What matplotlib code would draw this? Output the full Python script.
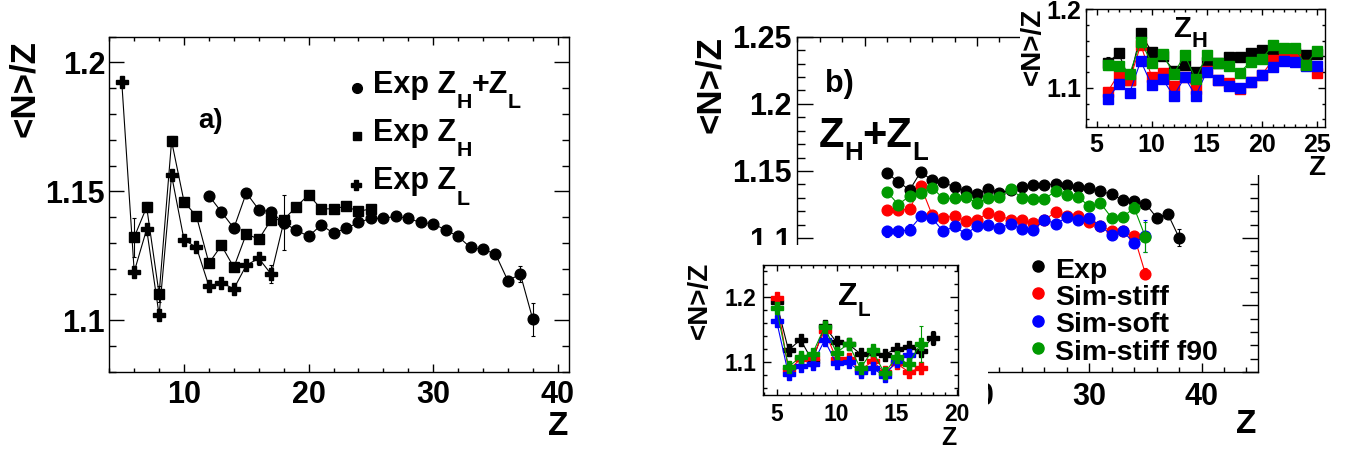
import matplotlib
matplotlib.use("Agg")
import matplotlib.pyplot as plt
from matplotlib.lines import Line2D
from matplotlib.patches import Rectangle
from matplotlib.ticker import MultipleLocator, FuncFormatter

plt.rcParams['font.family'] = ['Liberation Sans', 'DejaVu Sans']
plt.rcParams['font.weight'] = 'bold'

# ---- panel a) experimental data ----
z_hl = list(range(12, 39))
nz_hl = [1.1483, 1.1420, 1.1357, 1.1494, 1.1429, 1.1420, 1.1377, 1.1350, 1.1325,
         1.1369, 1.1338, 1.1356, 1.1379, 1.1395, 1.1395, 1.1403, 1.1395, 1.1379,
         1.1374, 1.1350, 1.1325, 1.1282, 1.1275, 1.1257, 1.1153, 1.1179, 1.1003]
err_hl = [0.002, 0.002, 0.002, 0.0015, 0.001, 0.001, 0.001, 0.001, 0.001,
          0.001, 0.001, 0.001, 0.001, 0.001, 0.001, 0.001, 0.001, 0.001,
          0.001, 0.001, 0.001, 0.001, 0.001, 0.001, 0.002, 0.003, 0.0065]

z_h = list(range(6, 26))
nz_h = [1.1322, 1.1439, 1.1101, 1.1695, 1.1460, 1.1403, 1.1221, 1.1290, 1.1205, 1.1335,
        1.1314, 1.1390, 1.1390, 1.1439, 1.1487, 1.1432, 1.1432, 1.1442, 1.1422, 1.1432]
err_h = [0.0075, 0.002, 0.003, 0.002, 0.001, 0.001, 0.001, 0.001, 0.001, 0.001,
         0.001, 0.001, 0.001, 0.001, 0.001, 0.001, 0.001, 0.001, 0.001, 0.001]

z_l = list(range(5, 19))
nz_l = [1.1925, 1.1188, 1.1353, 1.1020, 1.1562, 1.1312, 1.1282, 1.1132, 1.1145,
        1.1122, 1.1213, 1.1240, 1.1178, 1.1380]
err_l = [0.001, 0.002, 0.002, 0.002, 0.002, 0.001, 0.001, 0.001, 0.001,
         0.001, 0.002, 0.0026, 0.0035, 0.0107]

# ---- panel b) simulations, Z_H+Z_L ----
z_sim = list(range(12, 36))
stiff = [1.1206, 1.1206, 1.1216, 1.1385, 1.1174, 1.1149, 1.1166, 1.1124, 1.1137, 1.1187,
         1.1166, 1.1137, 1.1137, 1.1112, 1.1137, 1.1191, 1.1166, 1.1166, 1.1116, 1.1092,
         1.1049, 1.1049, 1.1012, 1.0734]
soft = [1.1049, 1.1049, 1.1062, 1.1161, 1.1149, 1.1049, 1.1087, 1.1032, 1.1087, 1.1099,
        1.1075, 1.1107, 1.1067, 1.1057, 1.1137, 1.1107, 1.1154, 1.1131, 1.1149, 1.1087,
        1.1025, 1.1049, 1.0963, 1.1017]
f90 = [1.1343, 1.1250, 1.1313, 1.1338, 1.1375, 1.1295, 1.1295, 1.1305, 1.1263, 1.1295,
       1.1305, 1.1366, 1.1299, 1.1292, 1.1292, 1.1348, 1.1318, 1.1308, 1.1236, 1.1260,
       1.1150, 1.1158, 1.1225, 1.1008]
err_stiff = [0.003] * 3 + [0.002] * 20 + [0.004]
err_soft = [0.004] * 3 + [0.002] * 19 + [0.004, 0.012]
err_f90 = [0.003] * 3 + [0.002] * 19 + [0.004, 0.011]

# ---- inset Z_H ----
stiff_h = [1.0953, 1.1178, 1.1102, 1.1547, 1.1144, 1.1195, 1.1025, 1.1136, 1.0983, 1.1220,
           1.1102, 1.1059, 1.0983, 1.1080, 1.1165, 1.1356, 1.1441, 1.1407, 1.1290, 1.1195]
soft_h = [1.0856, 1.1051, 1.0941, 1.1343, 1.1038, 1.1110, 1.0898, 1.1136, 1.0898, 1.1208,
          1.1102, 1.1025, 1.0996, 1.1080, 1.1165, 1.1271, 1.1347, 1.1335, 1.1285, 1.1280]
f90_h = [1.1292, 1.1280, 1.1178, 1.1589, 1.1322, 1.1432, 1.1178, 1.1420, 1.1110, 1.1420,
         1.1322, 1.1280, 1.1195, 1.1335, 1.1364, 1.1547, 1.1504, 1.1504, 1.1292, 1.1475]
err_sim_h = [0.006] + [0.002] * 19

# ---- inset Z_L ----
z_l_sim = list(range(5, 18))
stiff_l = [1.1985, 1.0883, 1.1051, 1.1071, 1.1492, 1.1051, 1.1051, 1.0883, 1.1020,
           1.0848, 1.0985, 1.0858, 1.0909]
soft_l = [1.1645, 1.0817, 1.0949, 1.0970, 1.1340, 1.0985, 1.1000, 1.0858, 1.0909,
          1.0797, 1.1020, 1.1112]
f90_l = [1.1832, 1.0934, 1.1086, 1.1137, 1.1543, 1.1152, 1.1289, 1.0909, 1.1188,
         1.0832, 1.1086, 1.0970, 1.1289]
err_stiff_l = [0.002] * 12 + [0.008]
err_soft_l = [0.002] * 12
err_f90_l = [0.002] * 12 + [0.028]

RED, BLUE, GREEN = '#ff0000', '#0000ff', '#009900'

W, H = 1350, 451
fig = plt.figure(figsize=(W / 100, H / 100), dpi=100)


def px_axes(left, top, right, bottom, z=1):
    ax = fig.add_axes([left / W, 1 - bottom / H, (right - left) / W, (bottom - top) / H])
    ax.set_zorder(z)
    return ax


def fmt_from(xmin_shown=None, ymin_shown=None):
    # '%g' labels; labels below the given value stay empty (hidden under an inset)
    def f(v, p, lo):
        if lo is not None and v < lo:
            return ''
        return f'{round(v, 3):g}'
    return (FuncFormatter(lambda v, p: f(v, p, xmin_shown)),
            FuncFormatter(lambda v, p: f(v, p, ymin_shown)))


def root_style(ax, xlim, ylim, xmaj, xmin, ymaj, ymin, size, xlen, ylen, xpad, ypad,
               xlo=None, ylo=None):
    ax.set_xlim(*xlim)
    ax.set_ylim(*ylim)
    ax.xaxis.set_major_locator(MultipleLocator(xmaj))
    ax.xaxis.set_minor_locator(MultipleLocator(xmin))
    ax.yaxis.set_major_locator(MultipleLocator(ymaj))
    ax.yaxis.set_minor_locator(MultipleLocator(ymin))
    fx, fy = fmt_from(xlo, ylo)
    ax.xaxis.set_major_formatter(fx)
    ax.yaxis.set_major_formatter(fy)
    ax.tick_params(which='both', direction='in', top=True, right=True,
                   labelsize=size, width=1)
    ax.tick_params(axis='x', which='major', length=xlen, pad=xpad)
    ax.tick_params(axis='x', which='minor', length=xlen / 2)
    ax.tick_params(axis='y', which='major', length=ylen, pad=ypad)
    ax.tick_params(axis='y', which='minor', length=ylen / 2)
    for s in ax.spines.values():
        s.set_linewidth(1)


def series(ax, x, y, e, color, marker, ms, z):
    ax.errorbar(x, y, yerr=e, fmt=marker + '-', color=color, ms=ms, lw=0.8,
                elinewidth=0.8, capsize=1.5, capthick=0.8, zorder=z)


def root_text(x, y, parts, size, sub=0.65, drop=0.7, z=6):
    # ROOT-like text with large, low subscripts; x, y in pixels (y = baseline)
    r = fig.canvas.get_renderer()
    for s, is_sub in parts:
        fs = size * sub if is_sub else size
        yy = y + (drop * 0.716 * size * 100 / 72 if is_sub else 0)
        t = fig.text(x / W, 1 - yy / H, s, fontsize=fs, ha='left', va='baseline', zorder=z)
        x += t.get_window_extent(r).width


def ftext(x, y, s, size, **kw):
    return fig.text(x / W, 1 - y / H, s, fontsize=size, **kw)


def marker_icon(x, y, marker, ms, color='k'):
    fig.add_artist(Line2D([x / W], [1 - y / H], transform=fig.transFigure, marker=marker,
                          ms=ms, color=color, ls='none', zorder=6))


# ================= panel a =================
ax_a = px_axes(109.3, 36.7, 569.3, 371.7)
root_style(ax_a, (4, 40.93), (1.08, 1.21), 10, 2, 0.05, 0.01, 22, 6, 10.5, 6, 3)
series(ax_a, z_l, nz_l, err_l, 'k', 'P', 8, 3)
series(ax_a, z_h, nz_h, err_h, 'k', 's', 6.5, 3)
series(ax_a, z_hl, nz_hl, err_hl, 'k', 'o', 7.7, 3)

ftext(24, 40, '<N>/Z', 25, rotation=90, ha='center', va='top')
ftext(568.3, 435, 'Z', 24, ha='right', va='baseline')
ftext(198, 128.3, 'a)', 20, ha='left', va='baseline')

marker_icon(357.4, 87.8, 'o', 7)
marker_icon(357.4, 136.3, 's', 5.5)
marker_icon(356.3, 185.2, 'P', 6.5)
root_text(373, 92.6, [('Exp Z', False), ('H', True), ('+Z', False), ('L', True)], 22,
          sub=0.7, drop=0.72)
root_text(373, 140.7, [('Exp Z', False), ('H', True)], 22, sub=0.7, drop=0.72)
root_text(373, 188.9, [('Exp Z', False), ('L', True)], 22, sub=0.7, drop=0.72)

# ================= panel b =================
ax_b = px_axes(797.3, 36.7, 1257.7, 372.3, z=1)
root_style(ax_b, (4, 45), (1.0, 1.25), 10, 2, 0.05, 0.01, 22, 6.5, 11.5, 7, 4,
           xlo=15, ylo=1.09)
series(ax_b, z_hl, nz_hl, err_hl, 'k', 'o', 7.7, 3)
series(ax_b, z_sim, stiff, err_stiff, RED, 'o', 7.7, 4)
series(ax_b, z_sim, soft, err_soft, BLUE, 'o', 7.7, 5)
series(ax_b, z_sim, f90, err_f90, GREEN, 'o', 7.7, 6)

ftext(710, 36, '<N>/Z', 25, rotation=90, ha='center', va='top')
ftext(1256.7, 433.3, 'Z', 24, ha='right', va='baseline')
ftext(825, 91.7, 'b)', 22, ha='left', va='baseline')
root_text(818.3, 146.7, [('Z', False), ('H', True), ('+Z', False), ('L', True)], 30,
          sub=0.62, drop=0.45)

legend_rows = [('Exp', 'k', 266, 277.5), ('Sim-stiff', RED, 293.3, 305),
               ('Sim-soft', BLUE, 321, 332.5), ('Sim-stiff f90', GREEN, 348.3, 360)]
for label, col, ym, yb in legend_rows:
    marker_icon(1037.7, ym, 'o', 8, col)
    ftext(1055, yb, label, 20.5, ha='left', va='baseline', zorder=6)

# white pads of the two insets (they hide part of panel b)
fig.add_artist(Rectangle((680 / W, 0), (988 - 680) / W, 1 - 245 / H,
                         transform=fig.transFigure, facecolor='white', edgecolor='none', zorder=2))
fig.add_artist(Rectangle((1020 / W, 1 - 175 / H), (W - 1020) / W, 175 / H,
                         transform=fig.transFigure, facecolor='white', edgecolor='none', zorder=2))

# ================= inset Z_H =================
ax_h = px_axes(1085.7, 9.3, 1325, 127.3, z=3)
root_style(ax_h, (4, 25.75), (1.05, 1.2), 5, 1, 0.1, 0.02, 18, 4, 5, 4, 3)
series(ax_h, z_h, nz_h, err_h, 'k', 's', 6.5, 3)
series(ax_h, z_h, stiff_h, err_sim_h, RED, 's', 6.5, 4)
series(ax_h, z_h, soft_h, err_sim_h, BLUE, 's', 6.5, 5)
series(ax_h, z_h, f90_h, err_sim_h, GREEN, 's', 6.5, 6)
ftext(1032.5, 8, '<N>/Z', 20, rotation=90, ha='center', va='top', zorder=6)
ftext(1325, 175, 'Z', 20, ha='right', va='baseline', zorder=6)
root_text(1173.3, 36.7, [('Z', False), ('H', True)], 21, sub=0.75, drop=0.5)

# ================= inset Z_L =================
ax_l = px_axes(763.3, 265, 957.7, 395, z=3)
root_style(ax_l, (3.9, 20.1), (1.05, 1.25), 5, 1, 0.1, 0.02, 16.5, 4, 5.5, 6, 5)
series(ax_l, z_l, nz_l, err_l, 'k', 'P', 8, 3)
series(ax_l, z_l_sim, stiff_l, err_stiff_l, RED, 'P', 8, 4)
series(ax_l, z_l_sim[:-1], soft_l, err_soft_l, BLUE, 'P', 8, 5)
series(ax_l, z_l_sim, f90_l, err_f90_l, GREEN, 'P', 8, 6)
ftext(700, 262, '<N>/Z', 20, rotation=90, ha='center', va='top', zorder=6)
ftext(957, 445, 'Z', 18, ha='right', va='baseline', zorder=6)
root_text(838.3, 305, [('Z', False), ('L', True)], 23, sub=0.65, drop=0.5)

fig.savefig('out.png', dpi=100)
